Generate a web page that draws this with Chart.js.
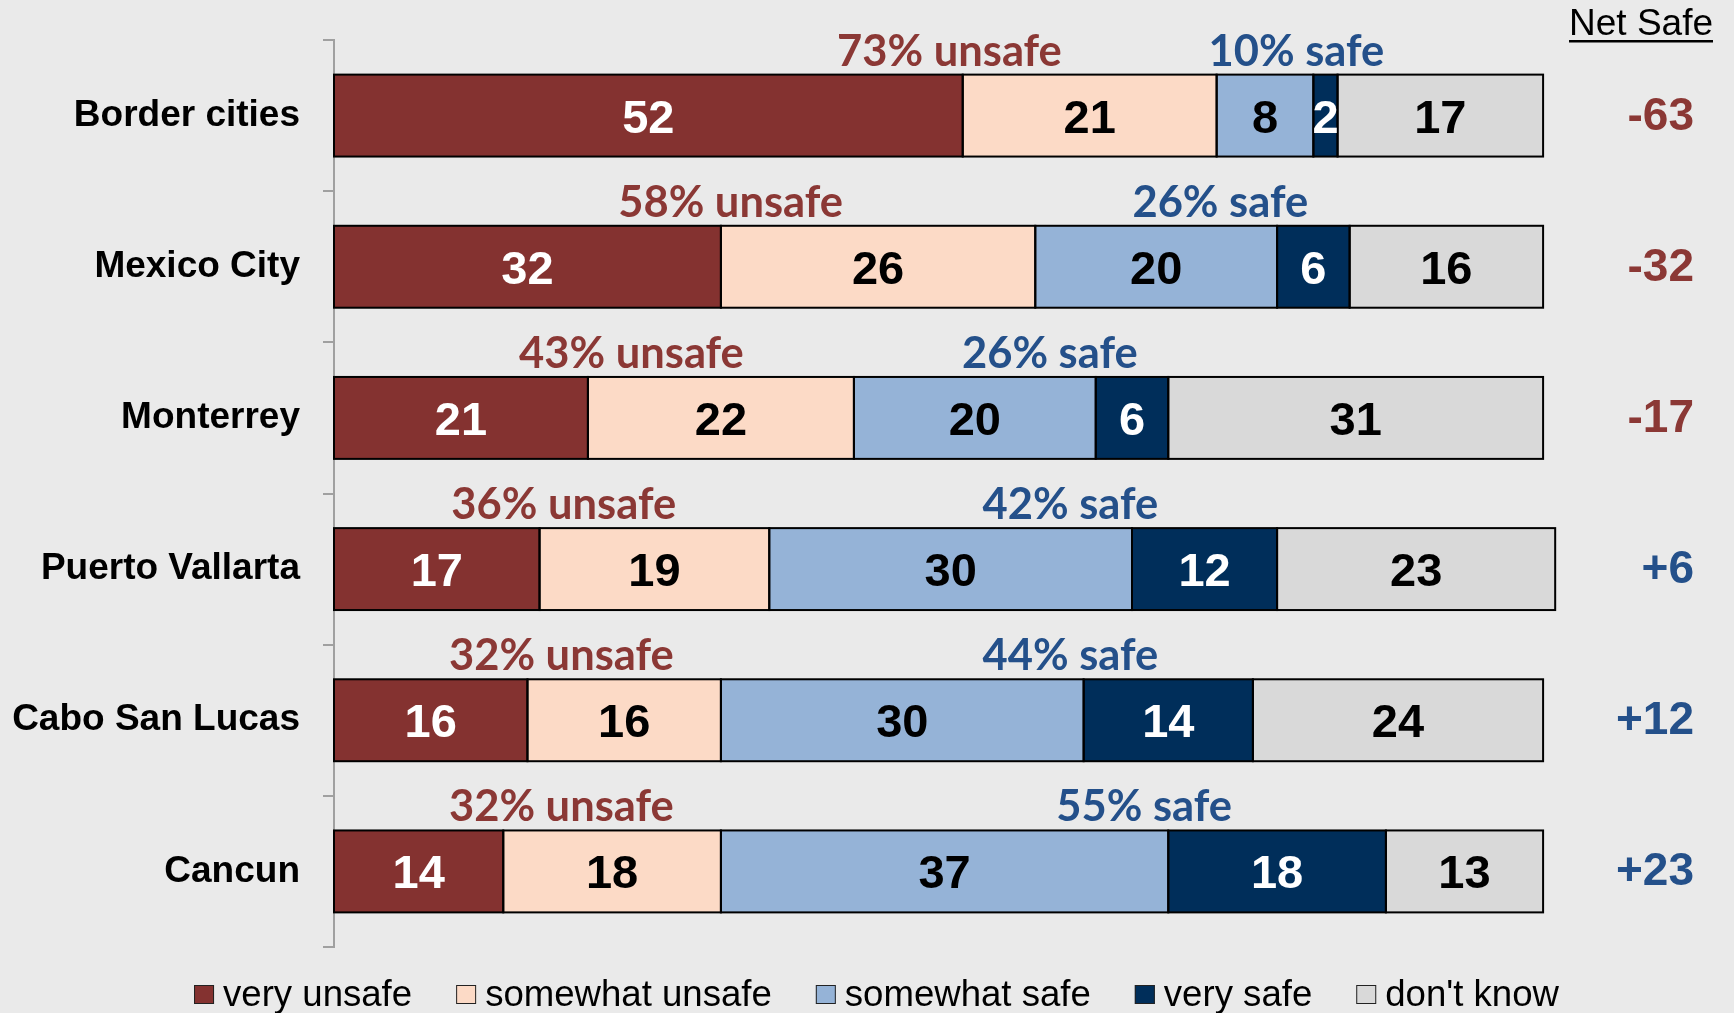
<!DOCTYPE html>
<html><head><meta charset="utf-8">
<script src="https://cdn.jsdelivr.net/npm/chart.js@4.4.1/dist/chart.umd.min.js"></script>
<style>html,body{margin:0;padding:0;background:#EAEAEA;overflow:hidden}#wrap{width:1734px;height:1013px;position:relative}</style>
</head><body><div id="wrap"><canvas id="c" width="1734" height="1013"></canvas></div>
<script>
const categories = ['Border cities','Mexico City','Monterrey','Puerto Vallarta','Cabo San Lucas','Cancun'];
const seriesNames = ['very unsafe','somewhat unsafe','somewhat safe','very safe',"don't know"];
const veryUnsafe = [52,32,21,17,16,14];
const somewhatUnsafe = [21,26,22,19,16,18];
const somewhatSafe = [8,20,20,30,30,37];
const verySafe = [2,6,6,12,14,18];
const dontKnow = [17,16,31,23,24,13];
// where the "% unsafe" / "% safe" captions sit, in value units along the bar
const unsafeLabelAt = [50.9,32.8,24.6,19.0,18.8,18.8];
const safeLabelAt = [79.6,73.3,59.2,60.9,60.9,67.0];

const seriesColors = ['#843230','#FCDAC6','#95B3D7','#002E5A','#D9D9D9'];
const labelColors = ['#FFFFFF','#000000','#000000','#FFFFFF','#000000'];
const RED = '#8B3835', BLUE = '#24508A';
const ARIAL = '"Liberation Sans", Arial, Helvetica, sans-serif';
const CAL = 'Lato, "Open Sans", sans-serif';

const seriesValues = [veryUnsafe, somewhatUnsafe, somewhatSafe, verySafe, dontKnow];

const bgPlugin = {
  id: 'bg',
  beforeDraw(chart) {
    const ctx = chart.ctx;
    ctx.save(); ctx.fillStyle = '#EAEAEA';
    ctx.fillRect(0, 0, chart.width, chart.height); ctx.restore();
  }
};

const barDecor = {
  id: 'barDecor',
  afterDatasetsDraw(chart) {
    const ctx = chart.ctx;
    ctx.save();
    chart.data.datasets.forEach((ds, d) => {
      const meta = chart.getDatasetMeta(d);
      meta.data.forEach((el, i) => {
        const l = Math.min(el.x, el.base), r = Math.max(el.x, el.base);
        const t = el.y - el.height / 2;
        ctx.strokeStyle = '#000'; ctx.lineWidth = 2;
        ctx.strokeRect(l, t, r - l, el.height);
      });
    });
    chart.data.datasets.forEach((ds, d) => {
      const meta = chart.getDatasetMeta(d);
      meta.data.forEach((el, i) => {
        const cx = (el.x + el.base) / 2;
        ctx.font = 'bold 47px ' + ARIAL;
        ctx.fillStyle = labelColors[d];
        ctx.textAlign = 'center'; ctx.textBaseline = 'alphabetic';
        ctx.fillText(String(ds.data[i]), cx, el.y + 17);
      });
    });
    ctx.restore();
  }
};

const annot = {
  id: 'annot',
  afterDraw(chart) {
    const ctx = chart.ctx;
    const xs = chart.scales.x;
    const meta0 = chart.getDatasetMeta(0);
    ctx.save();
    categories.forEach((c, i) => {
      const el = meta0.data[i];
      const top = el.y - el.height / 2;
      const unsafe = veryUnsafe[i] + somewhatUnsafe[i];
      const safe = somewhatSafe[i] + verySafe[i];
      ctx.font = 'bold 43.5px ' + CAL;
      ctx.textAlign = 'center'; ctx.textBaseline = 'alphabetic';
      ctx.fillStyle = RED;
      ctx.fillText(unsafe + '% unsafe', xs.getPixelForValue(unsafeLabelAt[i]), top - 9);
      ctx.fillStyle = BLUE;
      ctx.fillText(safe + '% safe', xs.getPixelForValue(safeLabelAt[i]), top - 9);
      const net = safe - unsafe;
      ctx.font = 'bold 46px ' + ARIAL;
      ctx.textAlign = 'right';
      ctx.fillStyle = net < 0 ? RED : BLUE;
      ctx.fillText((net > 0 ? '+' : '') + net, 1694, el.y + 14);
    });
    // header
    ctx.font = '37px ' + ARIAL;
    ctx.fillStyle = '#000'; ctx.textAlign = 'right';
    ctx.fillText('Net Safe', 1713, 35);
    const hw = ctx.measureText('Net Safe').width;
    ctx.fillRect(1713 - hw, 40, hw, 2.5);
    // legend
    ctx.font = '36.6px ' + ARIAL;
    ctx.textAlign = 'left';
    const widths = seriesNames.map(s => ctx.measureText(s).width);
    const total = widths.reduce((a, w) => a + 20 + 9 + w, 0) + 44 * (seriesNames.length - 1);
    let x = 876.5 - total / 2;
    seriesNames.forEach((s, k) => {
      ctx.fillStyle = seriesColors[k];
      ctx.fillRect(x, 985, 20, 19);
      ctx.strokeStyle = '#222'; ctx.lineWidth = 1;
      ctx.strokeRect(x + 0.5, 985.5, 19, 18);
      ctx.fillStyle = '#000';
      ctx.fillText(s, x + 29, 1006);
      x += 20 + 9 + widths[k] + 44;
    });
    ctx.restore();
  }
};

new Chart(document.getElementById('c'), {
  type: 'bar',
  data: {
    labels: categories,
    datasets: seriesNames.map((n, k) => ({
      label: n,
      data: seriesValues[k],
      backgroundColor: seriesColors[k],
      borderWidth: 0,
      barPercentage: 0.542,
      categoryPercentage: 1
    }))
  },
  options: {
    indexAxis: 'y',
    responsive: false,
    animation: false,
    devicePixelRatio: 1,
    layout: { padding: { top: 40, bottom: 66, right: 70, left: 0 } },
    plugins: { legend: { display: false }, tooltip: { enabled: false } },
    scales: {
      x: { stacked: true, min: 0, max: 110, display: false },
      y: {
        stacked: true,
        afterFit(scale) { scale.width = 334; scale.paddingTop = 0; scale.paddingBottom = 0; },
        grid: { display: true, drawOnChartArea: false, drawTicks: true, tickLength: 11, color: '#A0A0A0', lineWidth: 2, offset: true },
        border: { display: true, color: '#A0A0A0', width: 2 },
        ticks: { color: '#000', padding: 23, font: { family: ARIAL, size: 37, weight: 'bold' } }
      }
    }
  },
  plugins: [bgPlugin, barDecor, annot]
});
</script></body></html>
